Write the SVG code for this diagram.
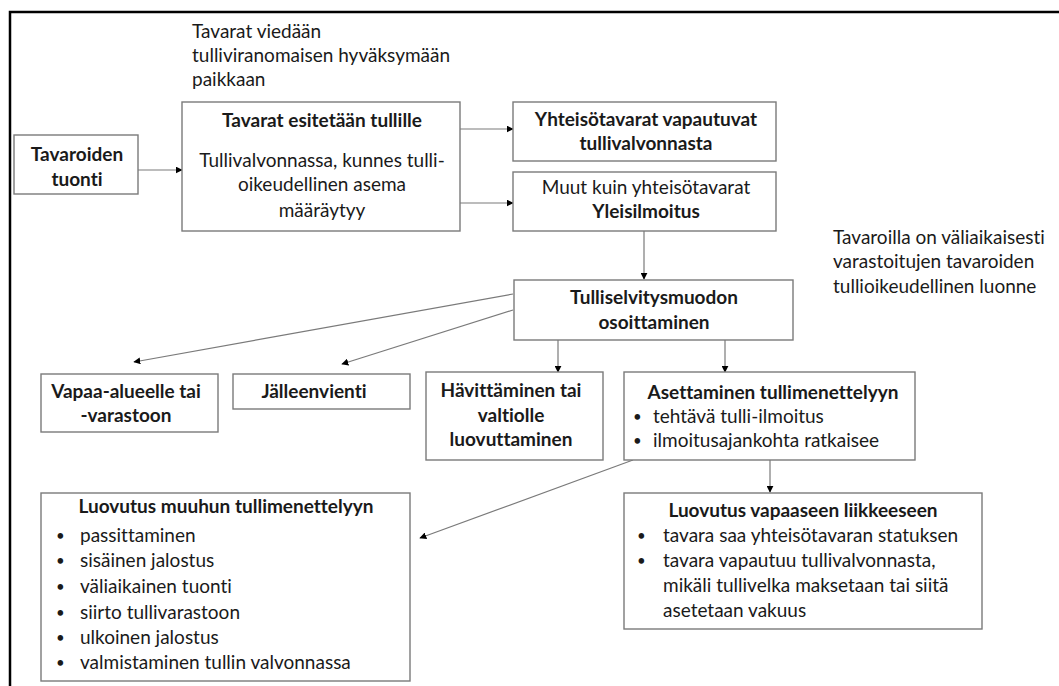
<svg xmlns="http://www.w3.org/2000/svg" width="1059" height="686" viewBox="0 0 1059 686">
  <style>
    text { font-family: Lato, "Open Sans", "Liberation Sans", sans-serif; font-size: 19px; fill: #1a1a1a; font-variant-ligatures: none; }
    .b { font-weight: bold; }
    .c { text-anchor: middle; }
    .dot { font-size: 15px; }
    .box { fill: #ffffff; stroke: #7a7a7a; stroke-width: 1.4; }
    .edge { fill: none; stroke: #7a7a7a; stroke-width: 1.2; marker-end: url(#arrow); }
  </style>
  <defs>
    <marker id="arrow" viewBox="0 0 10 10" refX="9" refY="5" markerWidth="7" markerHeight="7" markerUnits="userSpaceOnUse" orient="auto">
      <path d="M0,0 L10,5 L0,10 z" fill="#000"/>
    </marker>
  </defs>
  <rect width="1059" height="686" fill="#ffffff"/>
  <!-- outer frame (runs off the right and bottom edges) -->
  <path d="M10,686 L10,12 L1059,12" fill="none" stroke="#000" stroke-width="2.5"/>

  <g id="note-top">
    <text x="192" y="38">Tavarat viedään</text>
    <text x="192" y="62">tulliviranomaisen hyväksymään</text>
    <text x="192" y="86">paikkaan</text>
  </g>
  <g id="note-right">
    <text x="833" y="244">Tavaroilla on väliaikaisesti</text>
    <text x="833" y="268">varastoitujen tavaroiden</text>
    <text x="833" y="293">tullioikeudellinen luonne</text>
  </g>

  <g id="edges">
    <path class="edge" d="M138,170 L182,170"/>
    <path class="edge" d="M460,129 L513,129"/>
    <path class="edge" d="M460,203 L513,203"/>
    <path class="edge" d="M644,231 L644,279"/>
    <path class="edge" d="M513,294 L134,362"/>
    <path class="edge" d="M513,310 L342,364"/>
    <path class="edge" d="M558,340 L558,372"/>
    <path class="edge" d="M725,340 L725,372"/>
    <path class="edge" d="M633,460 L420,538"/>
    <path class="edge" d="M770,460 L770,492"/>
  </g>

  <g id="n-tuonti">
    <rect class="box" x="14" y="135" width="124" height="59"/>
    <text class="b c" x="77" y="161">Tavaroiden</text>
    <text class="b c" x="77" y="186">tuonti</text>
  </g>
  <g id="n-esitetaan">
    <rect class="box" x="182" y="102" width="278" height="129"/>
    <text class="b c" x="322" y="127">Tavarat esitetään tullille</text>
    <text class="c" x="322" y="167">Tullivalvonnassa, kunnes tulli-</text>
    <text class="c" x="322" y="191">oikeudellinen asema</text>
    <text class="c" x="322" y="217">määräytyy</text>
  </g>
  <g id="n-yhteiso">
    <rect class="box" x="513" y="102" width="263" height="59"/>
    <text class="b c" x="646" y="126">Yhteisötavarat vapautuvat</text>
    <text class="b c" x="646" y="150">tullivalvonnasta</text>
  </g>
  <g id="n-muut">
    <rect class="box" x="513" y="172" width="263" height="59"/>
    <text class="c" x="646" y="194">Muut kuin yhteisötavarat</text>
    <text class="b c" x="646" y="218">Yleisilmoitus</text>
  </g>
  <g id="n-tulliselvitys">
    <rect class="box" x="514" y="280" width="279" height="60"/>
    <text class="b c" x="654" y="304">Tulliselvitysmuodon</text>
    <text class="b c" x="654" y="329">osoittaminen</text>
  </g>
  <g id="n-vapaa-alue">
    <rect class="box" x="41" y="374" width="177" height="58"/>
    <text class="b c" x="126" y="398">Vapaa-alueelle tai</text>
    <text class="b c" x="126" y="422">-varastoon</text>
  </g>
  <g id="n-jalleenvienti">
    <rect class="box" x="233" y="374" width="177" height="35"/>
    <text class="b c" x="314" y="398">Jälleenvienti</text>
  </g>
  <g id="n-havittaminen">
    <rect class="box" x="426" y="372" width="177" height="88"/>
    <text class="b c" x="511" y="397">Hävittäminen tai</text>
    <text class="b c" x="511" y="422">valtiolle</text>
    <text class="b c" x="511" y="446">luovuttaminen</text>
  </g>
  <g id="n-asettaminen">
    <rect class="box" x="624" y="372" width="291" height="88"/>
    <text class="b c" x="773" y="399">Asettaminen tullimenettelyyn</text>
    <text class="dot" x="633" y="422">•</text><text x="653" y="423">tehtävä tulli-ilmoitus</text>
    <text class="dot" x="633" y="446">•</text><text x="653" y="447">ilmoitusajankohta ratkaisee</text>
  </g>
  <g id="n-muuhun">
    <rect class="box" x="41" y="493" width="369" height="188"/>
    <text class="b c" x="226" y="513">Luovutus muuhun tullimenettelyyn</text>
    <text class="dot" x="56" y="541">•</text><text x="80" y="542">passittaminen</text>
    <text class="dot" x="56" y="566">•</text><text x="80" y="567">sisäinen jalostus</text>
    <text class="dot" x="56" y="592">•</text><text x="80" y="593">väliaikainen tuonti</text>
    <text class="dot" x="56" y="618">•</text><text x="80" y="619">siirto tullivarastoon</text>
    <text class="dot" x="56" y="643">•</text><text x="80" y="644">ulkoinen jalostus</text>
    <text class="dot" x="56" y="668">•</text><text x="80" y="669">valmistaminen tullin valvonnassa</text>
  </g>
  <g id="n-vapaaseen">
    <rect class="box" x="624" y="493" width="358" height="136"/>
    <text class="b c" x="803" y="517">Luovutus vapaaseen liikkeeseen</text>
    <text class="dot" x="637" y="541">•</text><text x="663" y="542">tavara saa yhteisötavaran statuksen</text>
    <text class="dot" x="637" y="566">•</text><text x="663" y="567">tavara vapautuu tullivalvonnasta,</text>
    <text x="663" y="592">mikäli tullivelka maksetaan tai siitä</text>
    <text x="663" y="617">asetetaan vakuus</text>
  </g>
</svg>
